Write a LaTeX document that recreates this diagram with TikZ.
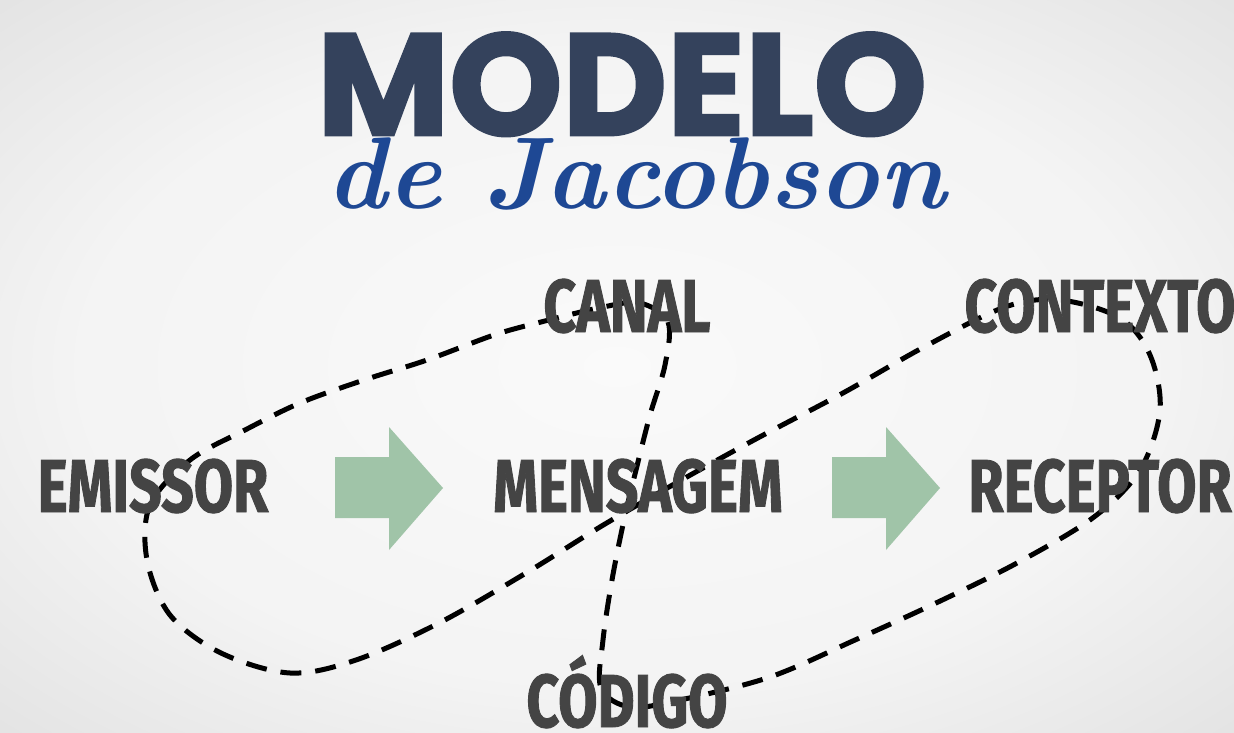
\documentclass[tikz,border=0pt]{standalone}
\usepackage{fontspec}
\newfontfamily\labelfont[FakeStretch=0.76,FakeBold=1.2]{Fira Sans}
\newfontfamily\titlefont[FakeBold=2]{Poppins}

\definecolor{labelgray}{RGB}{68,68,68}
\definecolor{titlenavy}{RGB}{52,66,92}
\definecolor{scriptblue}{RGB}{30,72,148}
\definecolor{arrowgreen}{RGB}{160,196,168}

\pgfdeclareradialshading{paper}{\pgfpoint{0bp}{0bp}}{%
  color(0bp)=(gray!4); color(22bp)=(gray!9); color(36bp)=(gray!22);
  color(50bp)=(gray!44)}

\tikzset{
  lbl/.style={font=\labelfont\bfseries\fontsize{75}{75}\selectfont,
    text=labelgray, anchor=base, inner sep=0pt},
  loopline/.style={line width=5pt, dash pattern=on 21pt off 14pt},
}

\begin{document}
\begin{tikzpicture}[x=1pt,y=-1pt]

% Background
\shade[shading=paper] (0,0) rectangle (1234,733);
\useasboundingbox (0,0) rectangle (1234,733);

% Title
\node[font=\titlefont\bfseries\fontsize{144}{144}\selectfont, text=titlenavy,
  anchor=base, inner sep=0pt] (title) at (622,135) {MODELO};
\node[font=\bfseries\itshape\fontsize{102}{102}\selectfont, text=scriptblue,
  anchor=base, inner sep=0pt] (subtitle) at (636,208) {de Jacobson};

% Green arrows between the three main elements
\foreach \ax in {335,832}{
  \fill[arrowgreen] (\ax,457) -- ++(54,0) -- ++(0,-30) -- ++(54,61)
    -- ++(-54,62) -- ++(0,-32) -- ++(-54,0) -- cycle;
}

% Dashed loop (figure eight through all six elements)
\draw[loopline] plot[smooth cycle, tension=0.55] coordinates {
  (603,307) (640,303) (668,322) (665,365) (650,415) (636,470) (624,520)
  (612,580) (603,640) (601,688) (630,707) (680,700) (770,677) (855,640)
  (936,603) (1017,563) (1094,517) (1140,470) (1160,410) (1150,355)
  (1120,318) (1060,300) (1005,307) (924,347) (843,393) (754,440)
  (669,487) (600,527) (526,573) (439,623) (356,660) (290,673) (221,653)
  (170,615) (147,560) (150,505) (190,460) (245,430) (300,403) (364,380)
  (427,360) (494,335) (541,322)};

% Elements
\node[lbl] (emissor)  at (153,512)  {EMISSOR};
\node[lbl] (mensagem) at (638,512)  {MENSAGEM};
\node[lbl] (receptor) at (1100,512) {RECEPTOR};
\node[lbl] (canal)    at (627,332)  {CANAL};
\node[lbl] (contexto) at (1100,332) {CONTEXTO};
\node[lbl] (codigo)   at (627,727)  {CÓDIGO};

\end{tikzpicture}
\end{document}
